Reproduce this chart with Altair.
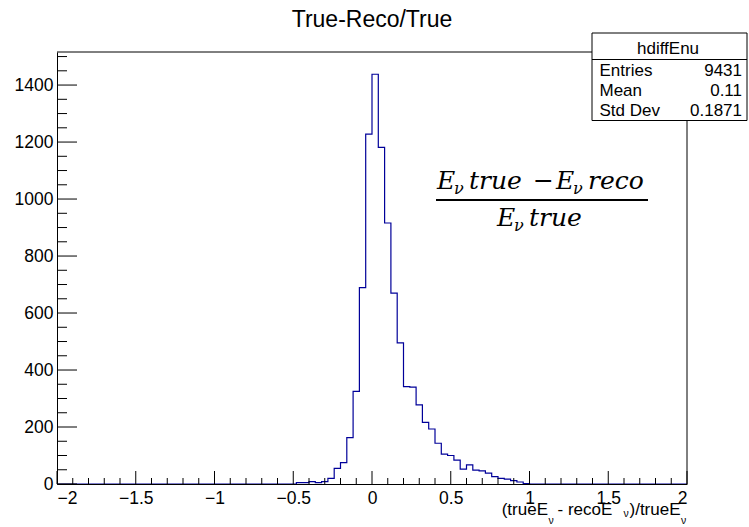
import altair as alt
import pandas as pd

# ---------------- data ----------------
bin_lo = [-0.48, -0.44, -0.40, -0.36, -0.32, -0.28, -0.24, -0.20, -0.16, -0.12,
          -0.08, -0.04, 0.00, 0.04, 0.08, 0.12, 0.16, 0.20, 0.24, 0.28,
          0.32, 0.36, 0.40, 0.44, 0.48, 0.52, 0.56, 0.60, 0.64, 0.68,
          0.72, 0.76, 0.80, 0.84, 0.88, 0.92, 0.96]
counts = [5, 5, 8, 5, 8, 20, 55, 75, 163, 325,
          689, 1228, 1438, 1181, 916, 670, 495, 342, 340, 278,
          216, 193, 143, 105, 100, 84, 52, 67, 49, 46,
          38, 26, 20, 17, 12, 7, 1]
x_range = [-2.0, 2.0]
last_edge = 1.0
y_max = 1516
x_major = [-2, -1.5, -1, -0.5, 0, 0.5, 1, 1.5, 2]
y_major = [0, 200, 400, 600, 800, 1000, 1200, 1400]
stats_labels = ["Entries", "Mean", "Std Dev"]
stats_values = ["9431", "0.11", "0.1871"]
hist_name = "hdiffEnu"
title_text = "True-Reco/True"

# ---------------- layout ----------------
LEFT, TOP = 57, 52
W, H = 630, 432
FONT = "Liberation Sans"
MATH = "DejaVu Serif"
BLUE = "#000099"


def px(x):
    return x - LEFT


def py(y):
    return y - TOP


hist_df = pd.DataFrame({
    "x": [x_range[0]] + bin_lo + [last_edge, x_range[1]],
    "y": [0] + counts + [0, 0],
})

x_minor = [round(-2 + 0.1 * i, 1) for i in range(41) if i % 5]
y_minor = [50 * i for i in range(31) if i % 4]

xs = alt.Scale(domain=x_range, nice=False, zero=False)
ys = alt.Scale(domain=[0, y_max], nice=False, zero=False)

hist = alt.Chart(hist_df).mark_line(
    interpolate="step-after", color=BLUE, strokeWidth=1.2
).encode(
    x=alt.X("x:Q", scale=xs, axis=alt.Axis(
        values=x_major, format="~g", title=None, tickSize=0, labelPadding=5,
        grid=False, domainColor="black", domainWidth=1, labelFont=FONT,
        labelFontSize=17.5, labelColor="black", zindex=1)),
    y=alt.Y("y:Q", scale=ys, axis=alt.Axis(
        values=y_major, format="d", title=None, tickSize=0, labelPadding=4,
        grid=False, domainColor="black", domainWidth=1, labelFont=FONT,
        labelFontSize=17.5, labelColor="black", zindex=1)),
)

one = alt.Data(values=[{}])

# inward ticks
xmaj = alt.Chart(pd.DataFrame({"v": x_major})).mark_rule(color="black", strokeWidth=1).encode(
    x=alt.X("v:Q", scale=xs), y=alt.value(H), y2=alt.value(H - 13))
xmin = alt.Chart(pd.DataFrame({"v": x_minor})).mark_rule(color="black", strokeWidth=1).encode(
    x=alt.X("v:Q", scale=xs), y=alt.value(H), y2=alt.value(H - 6))
ymaj = alt.Chart(pd.DataFrame({"v": y_major})).mark_rule(color="black", strokeWidth=1).encode(
    y=alt.Y("v:Q", scale=ys), x=alt.value(0), x2=alt.value(20))
ymin = alt.Chart(pd.DataFrame({"v": y_minor})).mark_rule(color="black", strokeWidth=1).encode(
    y=alt.Y("v:Q", scale=ys), x=alt.value(0), x2=alt.value(10))

# frame top and right
frame_top = alt.Chart(one).mark_rule(color="black", strokeWidth=1).encode(
    x=alt.value(0), x2=alt.value(W), y=alt.value(0))
frame_right = alt.Chart(one).mark_rule(color="black", strokeWidth=1).encode(
    x=alt.value(W), y=alt.value(0), y2=alt.value(H))


def txt(s, x, y, size=17, align="left", font=FONT, style="normal", color="black"):
    return alt.Chart(one).mark_text(
        text=s, align=align, baseline="alphabetic", font=font, fontSize=size,
        fontStyle=style, color=color
    ).encode(x=alt.value(px(x)), y=alt.value(py(y)))


# title
title = txt(title_text, 372, 27, size=23, align="center")

# stats box
box = alt.Chart(one).mark_rect(fill="white", stroke="black", strokeWidth=1).encode(
    x=alt.value(px(592)), x2=alt.value(px(747)), y=alt.value(py(33)), y2=alt.value(py(120.5)))
divider = alt.Chart(one).mark_rule(color="black", strokeWidth=1).encode(
    x=alt.value(px(592)), x2=alt.value(px(747)), y=alt.value(py(59.5)))
stats = [txt(hist_name, 668, 53.5, size=17, align="center")]
for i, (lab, val) in enumerate(zip(stats_labels, stats_values)):
    base = 75.5 + 20 * i
    stats.append(txt(lab, 599.5, base, size=17, align="left"))
    stats.append(txt(val, 742, base, size=17, align="right"))

# x-axis title pieces
xt = [
    txt("(trueE", 501.7, 515, size=17),
    txt("ν", 548.5, 524, size=10.5),
    txt("- recoE", 557.5, 515, size=17),
    txt("ν", 623.5, 517, size=10.5),
    txt(")/trueE", 629.5, 515, size=17),
    txt("ν", 681, 524, size=10.5),
]

# formula annotation
fs, ss = 25, 16
formula = [
    txt("E", 437, 189, size=fs, font=MATH, style="italic"),
    txt("ν", 454, 194, size=ss, font=MATH, style="italic"),
    txt("true", 469, 189, size=fs, font=MATH, style="italic"),
    txt("−", 533, 189, size=fs, font=MATH),
    txt("E", 556, 189, size=fs, font=MATH, style="italic"),
    txt("ν", 573, 194, size=ss, font=MATH, style="italic"),
    txt("reco", 588, 189, size=fs, font=MATH, style="italic"),
    txt("E", 497, 226, size=fs, font=MATH, style="italic"),
    txt("ν", 514, 231, size=ss, font=MATH, style="italic"),
    txt("true", 529, 226, size=fs, font=MATH, style="italic"),
]
frac_line = alt.Chart(one).mark_rule(color="black", strokeWidth=2).encode(
    x=alt.value(px(436)), x2=alt.value(px(648)), y=alt.value(py(200)))

chart = alt.layer(
    hist, xmin, xmaj, ymin, ymaj, frame_top, frame_right,
    box, divider, *stats, title, *xt, *formula, frac_line,
).properties(
    width=W, height=H,
    padding={"left": LEFT, "top": TOP, "right": 749 - LEFT - W, "bottom": 527 - TOP - H},
    autosize=alt.AutoSizeParams(type="none"),
    background="white",
).configure_view(stroke=None)

chart.save("out.html", embed_options={"renderer": "svg", "actions": False})
